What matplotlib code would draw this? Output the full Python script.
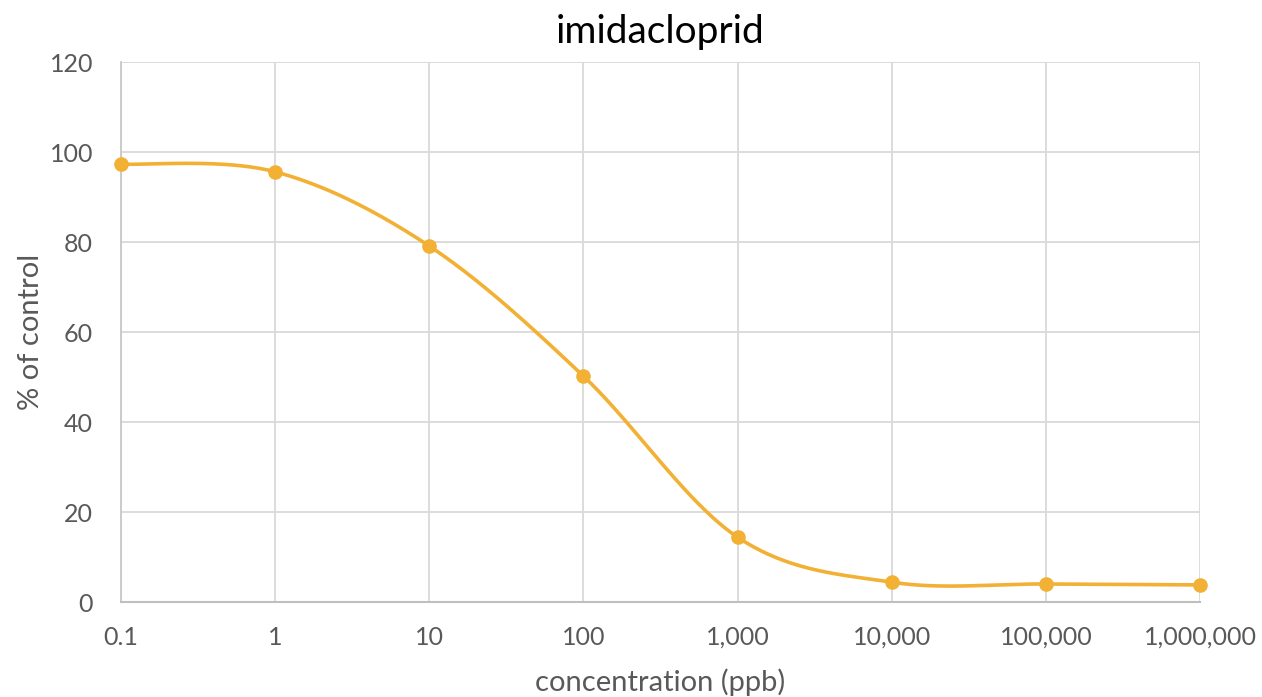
import numpy as np
import matplotlib
matplotlib.use("Agg")
import matplotlib.pyplot as plt
from matplotlib.ticker import FixedLocator, FixedFormatter

# data
conc = [0.1, 1, 10, 100, 1000, 10000, 100000, 1000000]
pct_control = [97.3, 95.6, 79.1, 50.2, 14.4, 4.4, 4.0, 3.8]
tick_labels = ["0.1", "1", "10", "100", "1,000", "10,000", "100,000", "1,000,000"]

line_col = "#F2B134"
text_col = "#595959"
grid_col = "#D9D9D9"


def smooth_curve(xs, ys, n=40):
    # catmull-rom style bezier smoothing, like excel's smoothed line
    px = np.log10(np.asarray(xs, float))
    py = np.asarray(ys, float)
    outx, outy = [], []
    for i in range(len(px) - 1):
        i0 = max(i - 1, 0)
        i3 = min(i + 2, len(px) - 1)
        c1x = px[i] + (px[i + 1] - px[i0]) / 6
        c1y = py[i] + (py[i + 1] - py[i0]) / 6
        c2x = px[i + 1] - (px[i3] - px[i]) / 6
        c2y = py[i + 1] - (py[i3] - py[i]) / 6
        t = np.linspace(0, 1, n)
        bx = (1-t)**3*px[i] + 3*(1-t)**2*t*c1x + 3*(1-t)*t**2*c2x + t**3*px[i+1]
        by = (1-t)**3*py[i] + 3*(1-t)**2*t*c1y + 3*(1-t)*t**2*c2y + t**3*py[i+1]
        outx.extend(bx)
        outy.extend(by)
    return 10 ** np.array(outx), np.array(outy)


plt.rcParams["font.family"] = ["Lato", "DejaVu Sans"]

fig = plt.figure(figsize=(12.62, 6.97), dpi=100)
ax = fig.add_axes([121/1262, 95/697, 1079/1262, 540/697])

sx, sy = smooth_curve(conc, pct_control)
ax.plot(sx, sy, color=line_col, lw=2.6, solid_capstyle="round", zorder=3, clip_on=False)
ax.plot(conc, pct_control, "o", color=line_col, ms=9.5, zorder=4, clip_on=False)

ax.set_xscale("log")
ax.set_xlim(0.1, 1000000)
ax.set_ylim(0, 120)
ax.xaxis.set_major_locator(FixedLocator(conc))
ax.xaxis.set_major_formatter(FixedFormatter(tick_labels))
ax.xaxis.set_minor_locator(FixedLocator([]))
ax.set_yticks(range(0, 121, 20))

ax.grid(True, color=grid_col, lw=1.3, zorder=0)
ax.set_axisbelow(True)
for side in ["top", "right"]:
    ax.spines[side].set_visible(False)
ax.spines["left"].set_color("#C8C8C8")
ax.spines["bottom"].set_color("#BFBFBF")
ax.spines["left"].set_linewidth(1.3)
ax.spines["bottom"].set_linewidth(1.5)
ax.tick_params(length=0, labelsize=18, colors=text_col)
ax.tick_params(axis="x", pad=17)
ax.tick_params(axis="y", pad=20)

ax.set_xlabel("concentration (ppb)", fontsize=21, color=text_col, labelpad=14)
ax.set_ylabel("% of control", fontsize=21, color=text_col, labelpad=4)
ax.set_title("imidacloprid", fontsize=28, color="black", pad=14)

fig.savefig("out.png", dpi=100, facecolor="white")
